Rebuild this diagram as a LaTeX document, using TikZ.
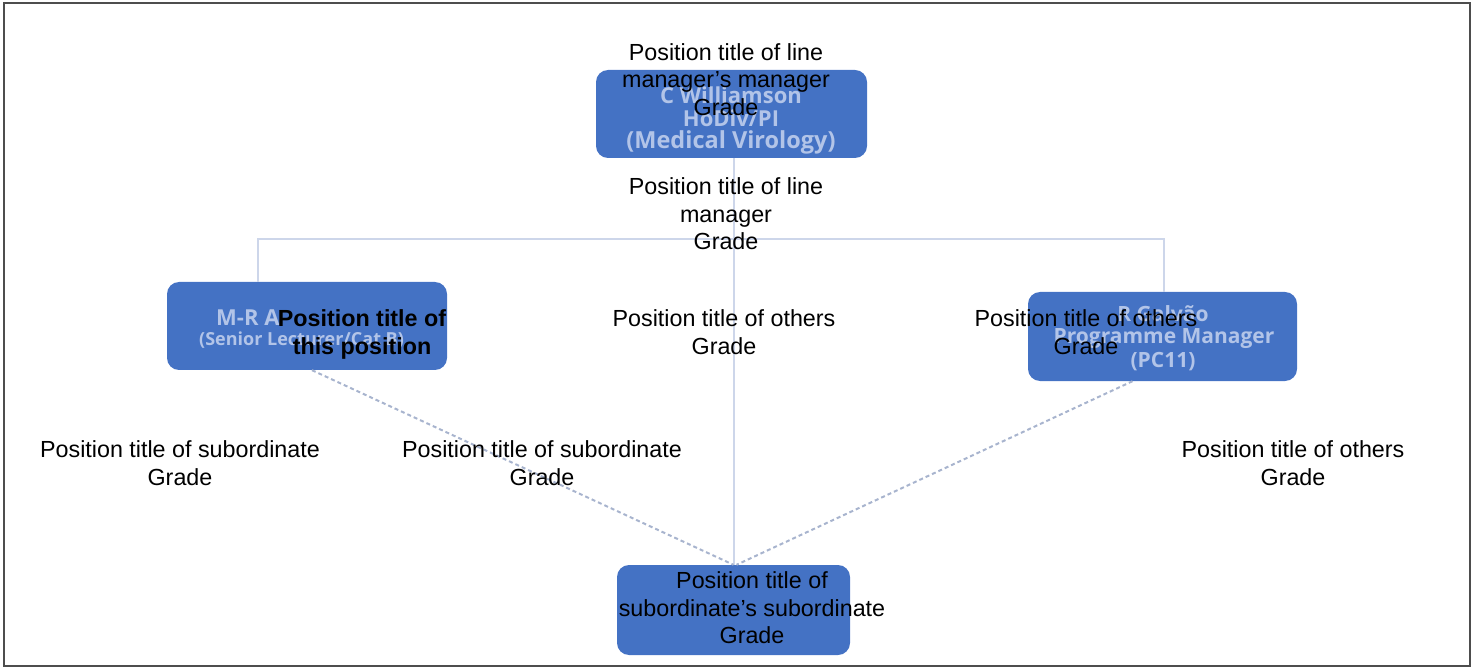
\documentclass[tikz,border=0pt]{standalone}
\usepackage{fontspec}
\setmainfont{Liberation Sans}
\newfontfamily\boxfont{Open Sans}
\usetikzlibrary{calc}
\definecolor{boxblue}{RGB}{68,114,196}
\definecolor{treeline}{RGB}{205,214,234}
\definecolor{dashcol}{RGB}{168,180,206}
\definecolor{faintcol}{RGB}{178,196,232}
\definecolor{framecol}{RGB}{77,77,77}
\tikzset{
  orgbox/.style={draw=none, fill=boxblue, rounded corners=12pt, minimum width=#1, inner sep=0pt},
  treeln/.style={draw=treeline, line width=2pt},
  dashln/.style={draw=dashcol, line width=2pt, dash pattern=on 4pt off 3pt},
  lbl/.style={align=center, inner sep=0pt, text=black, font=\fontsize{23.3}{27.7}\selectfont},
  faint/.style={inner sep=0pt, text=faintcol, font=\boxfont\bfseries\fontsize{#1}{#1}\selectfont},
}
\begin{document}
\begin{tikzpicture}[x=1pt,y=-1pt]
\useasboundingbox (0,0) rectangle (1473,668);
\draw[framecol, line width=2pt] (3.5,3.5) rectangle (1470,665.5);

% boxes
\node[orgbox=271pt, minimum height=88pt] (tb) at (731.5,114) {};
\node[orgbox=280pt, minimum height=88pt] (lb) at (307,326) {};
\node[orgbox=269pt, minimum height=89pt] (rb) at (1162.5,336.5) {};
\node[orgbox=233pt, minimum height=90pt] (bb) at (733.5,610) {};

% faint printed names in the boxes
\node[faint=22] (tb1) at (731,95) {C Williamson};
\node[faint=22] (tb2) at (731,118) {HoDiv/PI};
\node[faint=23.5] (tb3) at (731,142) {(Medical Virology)};
\node[faint=22, anchor=west] (lb1) at (216,318) {M-R A};
\node[faint=18, anchor=west] (lb2) at (199,340) {(Senior Lecturer/Cat B)};
\node[faint=21] (rb1) at (1163,314) {R Galvão};
\node[faint=21] (rb2) at (1164,339) {Programme Manager};
\node[faint=21] (rb3) at (1163,362) {(PC11)};

% connectors
\coordinate (jl) at (258,239);
\coordinate (jr) at (1164,239);
\draw[treeln] (tb.south -| bb.north) -- (bb.north);
\draw[treeln] (lb.north -| jl) -- (jl) -- (jr) -- (rb.north -| jr);
\draw[dashln] ($(lb.south)+(5,0)$) -- (bb.north);
\draw[dashln] ($(rb.south)+(-30,0)$) -- ($(bb.north)+(3,0)$);

% labels
\node[lbl] (l1) at (726,79.5) {Position title of line\\manager’s manager\\Grade};
\node[lbl] (l2) at (726,213.7) {Position title of line\\manager\\Grade};
\node[lbl, font=\bfseries\fontsize{23.3}{27.7}\selectfont] (l3) at (362,334.5) {Position title of\\this position};
\node[lbl] (l4) at (724,332) {Position title of others\\Grade};
\node[lbl] (l5) at (1086,332) {Position title of others\\Grade};
\node[lbl] (l6) at (180,463) {Position title of subordinate\\Grade};
\node[lbl] (l7) at (542,463) {Position title of subordinate\\Grade};
\node[lbl] (l8) at (1293,463) {Position title of others\\Grade};
\node[lbl] (l9) at (752,607.7) {Position title of\\subordinate’s subordinate\\Grade};
\end{tikzpicture}
\end{document}
